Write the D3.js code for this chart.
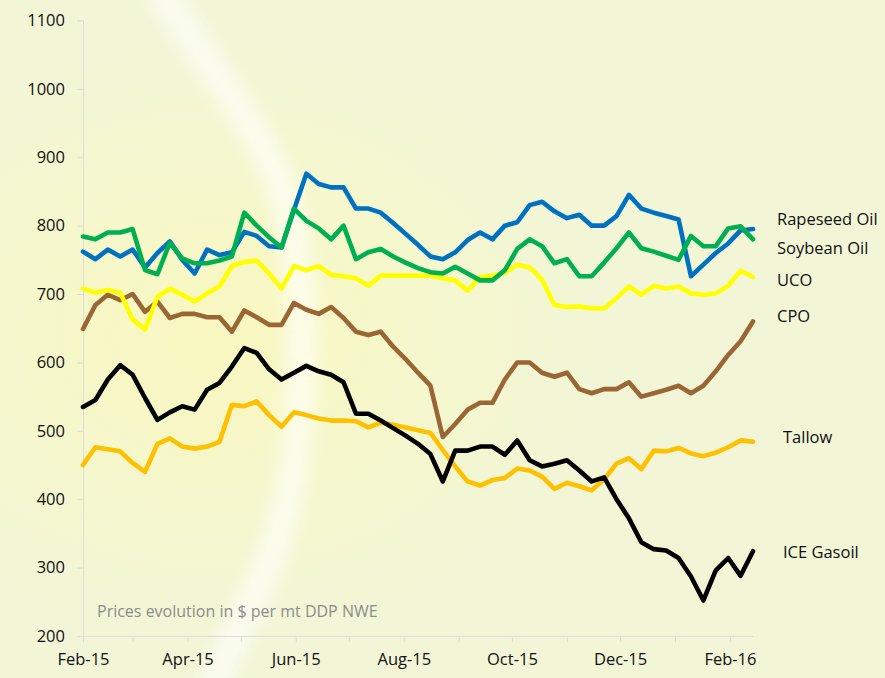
<!DOCTYPE html>
<html>
<head>
<meta charset="utf-8">
<script src="https://cdn.jsdelivr.net/npm/d3@7"></script>
<style>
  body { margin: 0; background: #F2F6D7; }
  #chart { width: 885px; height: 678px; }
  text { font-family: "Open Sans", "Noto Sans", sans-serif; fill: #111; }
</style>
</head>
<body>
<div id="chart"></div>
<script>
// weekly prices, $ per mt, first week Feb-15
const rapeseed = [762,751,765,755,765,739,760,777,750,730,765,757,761,791,785,770,768,823,876,
  861,856,856,825,825,819,804,788,772,755,751,761,779,790,780,800,805,830,835,
  821,811,816,800,800,814,845,825,819,814,809,726,743,760,774,793,795];
const soybean = [784,780,790,790,795,735,729,775,752,745,745,749,755,819,800,783,768,825,807,
  796,780,800,751,761,766,755,746,738,732,730,740,730,720,720,735,766,780,770,
  745,751,726,726,746,767,790,767,762,756,750,785,770,770,796,799,780];
const uco = [708,702,706,702,663,648,696,708,699,689,701,711,741,747,749,730,708,741,735,
  741,728,726,723,712,727,727,727,727,727,723,720,705,725,727,731,743,739,721,
  684,681,682,679,679,694,711,699,712,708,711,701,699,701,712,734,725];
const cpo = [649,684,699,691,700,674,689,665,671,671,666,666,645,676,666,655,655,687,677,
  671,681,665,645,640,645,623,605,585,566,491,510,531,541,541,575,600,600,585,
  579,585,561,555,561,561,571,550,555,560,566,555,566,587,611,631,660];
const tallow = [450,476,473,470,453,440,481,489,477,474,477,484,538,536,543,523,506,527,523,
  518,515,515,514,505,512,509,505,501,497,472,448,426,420,428,431,445,442,433,
  415,424,419,413,429,452,460,444,471,470,475,467,463,468,476,486,484];
const gasoil = [535,545,575,596,582,548,516,527,536,531,560,570,594,621,614,590,575,585,595,
  587,582,571,525,525,515,504,493,481,466,426,471,471,477,477,465,486,457,448,
  452,457,442,426,432,400,372,337,327,325,314,287,252,296,314,288,324];

const seriesNames = ["Tallow", "CPO", "UCO", "Rapeseed Oil", "Soybean Oil", "ICE Gasoil"];
const seriesValues = [tallow, cpo, uco, rapeseed, soybean, gasoil];
const seriesColors = ["#FFC000", "#9A6633", "#FFFF00", "#0070C0", "#00B050", "#000000"];

const yTicks = [200, 300, 400, 500, 600, 700, 800, 900, 1000, 1100];
const note = "Prices evolution in $ per mt DDP NWE";

const width = 885, height = 678;
const startDate = new Date(2015, 1, 1);
const endDate = new Date(2016, 1, 14);
const weeks = d3.timeDay.range(startDate, d3.timeDay.offset(endDate, 1), 7);

const svg = d3.select("#chart")
  .append("svg")
    .attr("width", width)
    .attr("height", height)
    .attr("viewBox", `0 0 ${width} ${height}`);

// background: pale yellow-green with a glow and a white arc
const defs = svg.append("defs");
const glow = defs.append("radialGradient")
    .attr("id", "glow")
    .attr("cx", 0.24).attr("cy", 0.5).attr("r", 0.45);
glow.append("stop").attr("offset", "0%").attr("stop-color", "#FAF8BE").attr("stop-opacity", 0.9);
glow.append("stop").attr("offset", "100%").attr("stop-color", "#FAF8BE").attr("stop-opacity", 0);
defs.append("filter").attr("id", "blur")
  .attr("x", "-50%").attr("y", "-50%").attr("width", "200%").attr("height", "200%")
  .append("feGaussianBlur").attr("stdDeviation", 7);

svg.append("rect").attr("width", width).attr("height", height).attr("fill", "#F2F6D7");
svg.append("rect").attr("width", width).attr("height", height).attr("fill", "url(#glow)");

const arcPts = [[160,-10],[222,83],[279,167],[296,240],[303,320],[301,410],[292,490],[272,560],[242,620],[212,690]];
const arcLine = d3.line().curve(d3.curveBasis);
svg.append("path")
    .attr("d", arcLine(arcPts))
    .attr("fill", "none")
    .attr("stroke", "#FFFFFF")
    .attr("stroke-width", 34)
    .attr("opacity", 0.5)
    .attr("filter", "url(#blur)");
svg.append("path")
    .attr("d", arcLine(arcPts))
    .attr("fill", "none")
    .attr("stroke", "#FFFFF5")
    .attr("stroke-width", 10)
    .attr("opacity", 0.45)
    .attr("filter", "url(#blur)");

// scales
const x = d3.scaleTime().domain([startDate, endDate]).range([83, 753]);
const y = d3.scaleLinear().domain([200, 1100]).range([636, 20.5]);

// y axis
const yAxis = svg.append("g")
    .attr("transform", "translate(83,0)")
    .call(d3.axisLeft(y).tickValues(yTicks).tickSize(6).tickPadding(12).tickFormat(d3.format("d")));
yAxis.select(".domain").attr("stroke", "#DCDCDC");
yAxis.selectAll(".tick line").attr("stroke", "#DCDCDC");
yAxis.selectAll(".tick text")
    .style("font-size", "16.5px")
    .style("font-family", "'Open Sans', sans-serif")
    .attr("fill", "#111");

// x axis, monthly ticks, labels every two months
const xAxis = svg.append("g")
    .attr("transform", "translate(0,636)")
    .call(d3.axisBottom(x)
      .ticks(d3.timeMonth.every(1))
      .tickSize(6)
      .tickPadding(11)
      .tickSizeOuter(0)
      .tickFormat(d => d.getMonth() % 2 === 1 ? d3.timeFormat("%b-%y")(d) : ""));
xAxis.select(".domain").attr("stroke", "#DCDCDC");
xAxis.selectAll(".tick line").attr("stroke", "#DCDCDC");
xAxis.selectAll(".tick text")
    .style("font-size", "16.5px")
    .style("font-family", "'Open Sans', sans-serif")
    .attr("fill", "#111");

// note
svg.append("text")
    .attr("x", 97)
    .attr("y", 617)
    .style("font-size", "16px")
    .style("fill", "#8C8C8C")
    .text(note);

// lines
const line = d3.line()
  .x((d, i) => x(weeks[i]))
  .y(d => y(d));

seriesNames.forEach((name, k) => {
  svg.append("path")
      .datum(seriesValues[k])
      .attr("class", "series")
      .attr("d", line)
      .attr("fill", "none")
      .attr("stroke", seriesColors[k])
      .attr("stroke-width", 4.6)
      .attr("stroke-linejoin", "round")
      .attr("stroke-linecap", "round");
});

// series labels (text boxes to the right)
const labelPos = {
  "Rapeseed Oil": [777, 219],
  "Soybean Oil": [777, 248],
  "UCO": [777, 280],
  "CPO": [777, 316],
  "Tallow": [783, 437],
  "ICE Gasoil": [783, 552]
};
svg.selectAll(".series-label")
  .data(["Rapeseed Oil", "Soybean Oil", "UCO", "CPO", "Tallow", "ICE Gasoil"])
  .join("text")
    .attr("class", "series-label")
    .attr("x", d => labelPos[d][0])
    .attr("y", d => labelPos[d][1])
    .attr("dy", "0.35em")
    .style("font-size", "16.5px")
    .text(d => d);
</script>
</body>
</html>
